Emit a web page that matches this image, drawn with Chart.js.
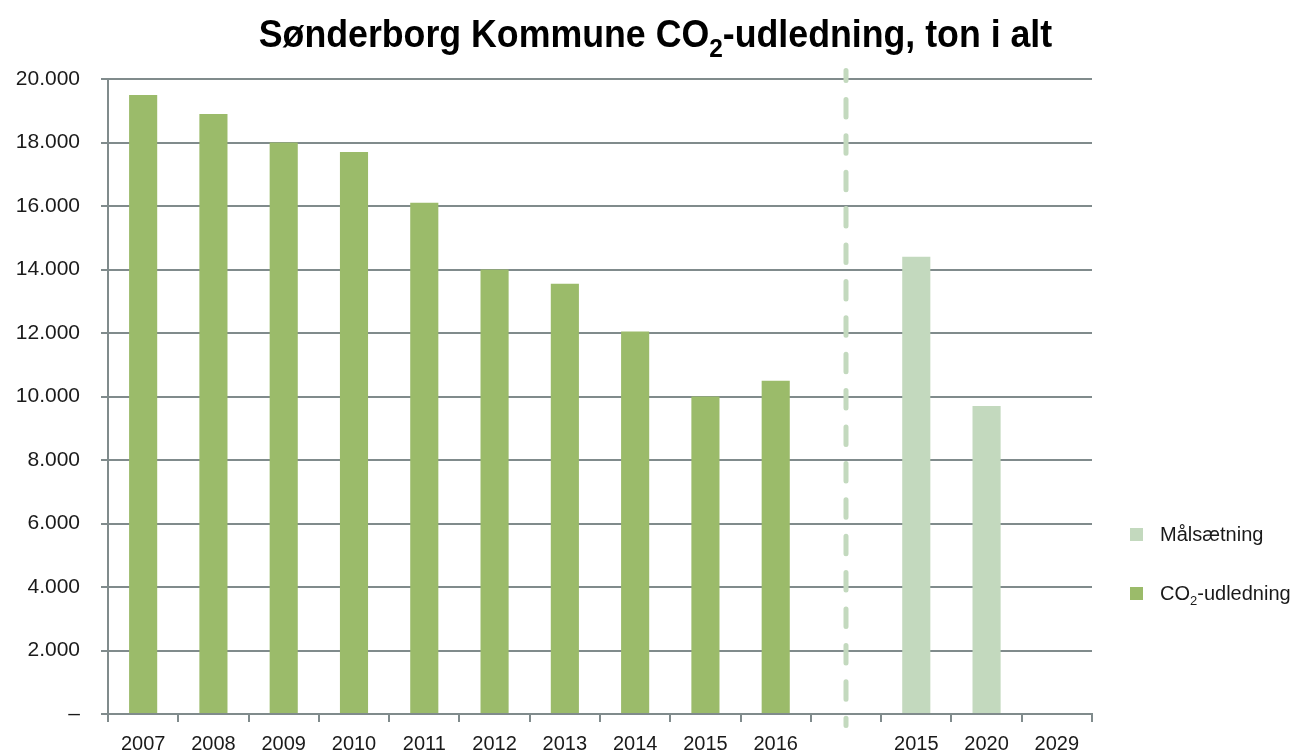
<!DOCTYPE html>
<html>
<head>
<meta charset="utf-8">
<script src="https://cdn.jsdelivr.net/npm/chart.js@4/dist/chart.umd.min.js"></script>
<style>
  html, body { margin: 0; padding: 0; background: #fff; }
  #wrap { position: relative; width: 1291px; height: 753px; overflow: hidden; }
  #c { position: absolute; left: 0; top: 0; }
  #title { position: absolute; left: 0; width: 1311px; top: 13px; text-align: center;
    font-family: "Liberation Sans", sans-serif; font-weight: bold;
    font-size: 38px; color: #000; white-space: nowrap; transform: scaleX(0.94); transform-origin: 655px 0; }
  #title sub { font-size: 26px; vertical-align: -10px; line-height: 0; }
  .leg { position: absolute; left: 1130px; font-family: "Liberation Sans", sans-serif; font-size: 20px; color: #1a1a1a; white-space: nowrap; }
  .leg span.sw { position: absolute; left: 0; top: 5px; width: 13px; height: 13px; }
  .leg span.tx { position: absolute; left: 30px; top: 0; }
  .leg sub { font-size: 13px; vertical-align: -5px; line-height: 0; }
</style>
</head>
<body>
<div id="wrap">
  <canvas id="c" width="1291" height="753"></canvas>
  <div id="title">Sønderborg Kommune CO<sub>2</sub>-udledning, ton i alt</div>
  <div class="leg" style="top:523px"><span class="sw" style="background:#C3D9BE"></span><span class="tx">Målsætning</span></div>
  <div class="leg" style="top:582px"><span class="sw" style="background:#9BBB6A"></span><span class="tx">CO<sub>2</sub>-udledning</span></div>
</div>
<script>
const categories = ['2007','2008','2009','2010','2011','2012','2013','2014','2015','2016','','2015','2020','2029'];
const co2Values = [19500, 18900, 18000, 17700, 16100, 14000, 13550, 12050, 10000, 10500, null, null, null, null];
const targetValues = [null, null, null, null, null, null, null, null, null, null, null, 14400, 9700, 0];
const yTicks = [0, 2000, 4000, 6000, 8000, 10000, 12000, 14000, 16000, 18000, 20000];
const dividerIndex = 10;

function fmt(v) {
  if (v === 0) return '–';
  return String(v).replace(/\B(?=(\d{3})+(?!\d))/g, '.');
}

const gridColor = '#808B8C';

const dividerPlugin = {
  id: 'divider',
  afterDatasetsDraw(chart) {
    const ctx = chart.ctx;
    const x = chart.scales.x.getPixelForValue(dividerIndex);
    ctx.save();
    ctx.strokeStyle = '#C3D9BE';
    ctx.lineWidth = 5;
    ctx.lineCap = 'round';
    ctx.setLineDash([17.5, 18.9]);
    ctx.lineDashOffset = 7.5;
    ctx.beginPath();
    ctx.moveTo(x, 70.5);
    ctx.lineTo(x, 725.5);
    ctx.stroke();
    ctx.restore();
  }
};

new Chart(document.getElementById('c'), {
  type: 'bar',
  data: {
    labels: categories,
    datasets: [
      { label: 'Målsætning', data: targetValues, backgroundColor: '#C3D9BE', borderWidth: 0 },
      { label: 'CO2-udledning', data: co2Values, backgroundColor: '#9BBB6A', borderWidth: 0 }
    ]
  },
  options: {
    responsive: false,
    animation: false,
    layout: { padding: { left: 0, right: 199, top: 79, bottom: 0 } },
    plugins: { legend: { display: false }, title: { display: false }, tooltip: { enabled: false } },
    datasets: { bar: { categoryPercentage: 1, barPercentage: 0.4 } },
    scales: {
      x: {
        stacked: true,
        offset: true,
        grid: { display: true, drawOnChartArea: false, drawTicks: true, tickLength: 8, color: gridColor, lineWidth: 2, offset: true },
        border: { display: true, color: gridColor, width: 2 },
        ticks: { color: '#1a1a1a', font: { family: 'Liberation Sans', size: 20 }, padding: 10, maxRotation: 0, autoSkip: false },
        afterFit(scale) { scale.height = 39; }
      },
      y: {
        stacked: true,
        min: 0, max: 20000,
        afterBuildTicks(scale) { scale.ticks = yTicks.map(v => ({ value: v })); },
        grid: { color: gridColor, lineWidth: 2, tickLength: 7 },
        border: { display: true, color: gridColor, width: 2 },
        ticks: { color: '#1a1a1a', font: { family: 'Liberation Sans', size: 21 }, padding: 21, callback: fmt },
        afterFit(scale) { scale.width = 108; }
      }
    }
  },
  plugins: [dividerPlugin]
});
</script>
</body>
</html>
